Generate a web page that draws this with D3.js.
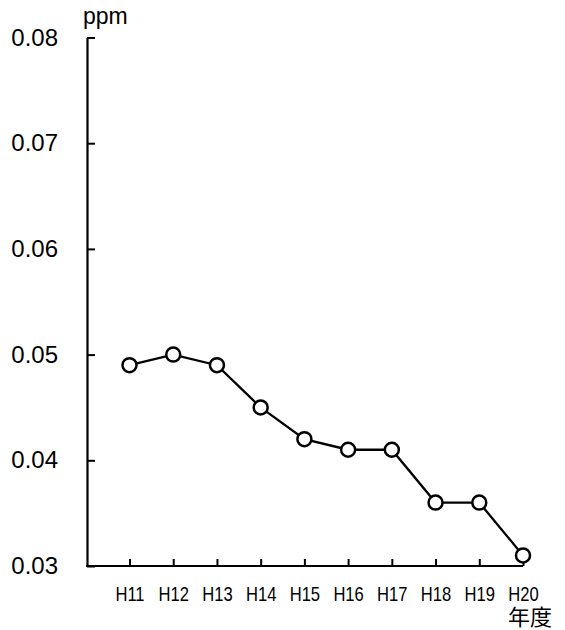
<!DOCTYPE html>
<html>
<head>
<meta charset="utf-8">
<script src="https://cdn.jsdelivr.net/npm/d3@7"></script>
<style>
  html, body { margin: 0; padding: 0; background: #fff; }
  svg { display: block; }
</style>
</head>
<body>
<script>
const categories = ["H11","H12","H13","H14","H15","H16","H17","H18","H19","H20"];
const values = [0.049, 0.050, 0.049, 0.045, 0.042, 0.041, 0.041, 0.036, 0.036, 0.031];
const yTicks = [0.03, 0.04, 0.05, 0.06, 0.07, 0.08];
const yUnit = "ppm";
const xUnit = "年度";

const W = 565, H = 630;
const axisX = 87, axisY = 566;

const svg = d3.select("body").append("svg").attr("width", W).attr("height", H);

const x = d3.scalePoint().domain(categories).range([129.5, 523]);
const y = d3.scaleLinear().domain([0.03, 0.08]).range([axisY, 37.5]);

const font = "'Liberation Sans', Arial, sans-serif";

// Y axis
const gy = svg.append("g").attr("transform", `translate(${axisX},0)`)
  .call(d3.axisLeft(y).tickValues(yTicks).tickFormat(d3.format(".2f"))
    .tickSizeInner(-8).tickSizeOuter(0).tickPadding(29));
gy.select(".domain").attr("stroke", "#000").attr("stroke-width", 2.2);
gy.selectAll(".tick line").attr("stroke", "#000").attr("stroke-width", 2);
gy.selectAll(".tick text").attr("fill", "#000")
  .style("font-family", font).style("font-size", "24px");

// X axis
const gx = svg.append("g").attr("transform", `translate(0,${axisY})`)
  .call(d3.axisBottom(x).tickSizeInner(-7).tickSizeOuter(0).tickPadding(21));
gx.select(".domain").remove();
gx.append("line")
  .attr("x1", axisX - 1).attr("x2", x(categories[categories.length - 1]))
  .attr("y1", 0).attr("y2", 0)
  .attr("stroke", "#000").attr("stroke-width", 2.2);
gx.selectAll(".tick line").attr("stroke", "#000").attr("stroke-width", 2);
gx.selectAll(".tick text").attr("fill", "#000")
  .attr("transform", "scale(0.83,1)")
  .style("font-family", font).style("font-size", "20px");

// Units
svg.append("text").attr("x", 83).attr("y", 23.5)
  .style("font-family", font).style("font-size", "23px").attr("fill", "#000")
  .text(yUnit);
svg.append("text").attr("x", 530).attr("y", 625)
  .attr("text-anchor", "middle")
  .style("font-family", "'Noto Sans CJK JP', sans-serif").style("font-size", "22px")
  .attr("fill", "#000").text(xUnit);

// Line
const data = categories.map((c, i) => ({ c, v: values[i] }));
svg.append("path").datum(data)
  .attr("fill", "none").attr("stroke", "#000").attr("stroke-width", 2.3)
  .attr("d", d3.line().x(d => x(d.c)).y(d => y(d.v)));

svg.selectAll("circle.pt").data(data).enter().append("circle")
  .attr("class", "pt")
  .attr("cx", d => x(d.c)).attr("cy", d => y(d.v)).attr("r", 7)
  .attr("fill", "#fff").attr("stroke", "#000").attr("stroke-width", 2.5);
</script>
</body>
</html>
